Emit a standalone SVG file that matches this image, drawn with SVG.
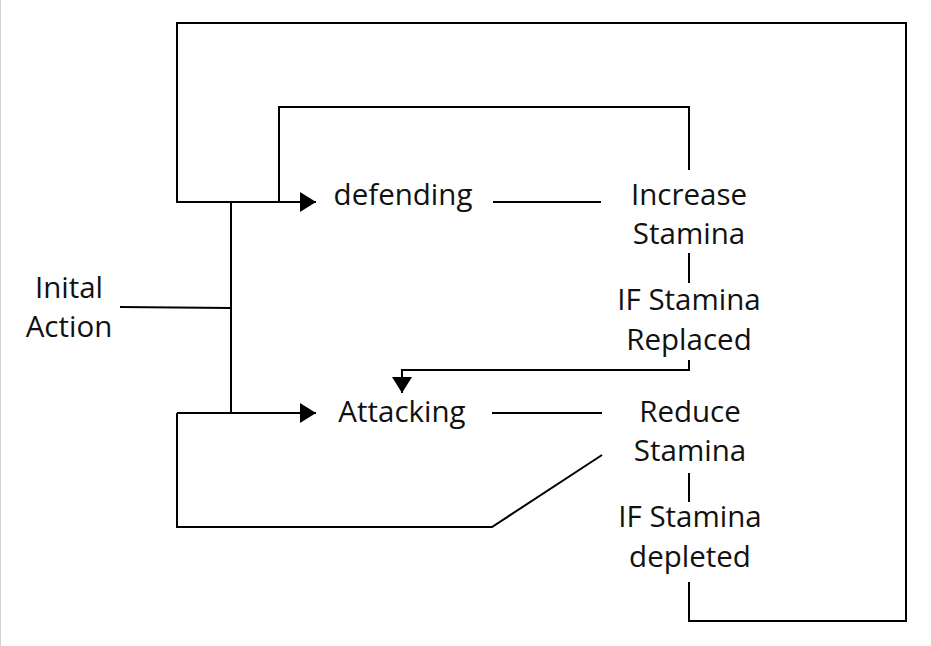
<svg xmlns="http://www.w3.org/2000/svg" width="931" height="646" viewBox="0 0 931 646">
<defs>
<marker id="arr" viewBox="0 0 16 20" refX="16" refY="10" markerWidth="16" markerHeight="20" markerUnits="userSpaceOnUse" orient="auto">
<path d="M0,0 L16,10 L0,20 Z" fill="#000"/>
</marker>
<style>
.ln{fill:none;stroke:#000;stroke-width:2}
.t{font-family:"Open Sans","Liberation Sans",sans-serif;font-size:29.5px;fill:#111;text-anchor:middle}
</style>
</defs>
<rect width="931" height="646" fill="#fff"/>
<line x1="0.5" y1="0" x2="0.5" y2="646" stroke="#d0d0d0" stroke-width="1"/>
<g id="connectors">
<polyline class="ln" points="689,582 689,621 906,621 906,23 177,23 177,202 316,202" marker-end="url(#arr)"/>
<polyline class="ln" points="689,170 689,107 279,107 279,202"/>
<line class="ln" x1="493" y1="202" x2="601" y2="202"/>
<line class="ln" x1="689" y1="253" x2="689" y2="283"/>
<polyline class="ln" points="689,360 689,370 402,370 402,393" marker-end="url(#arr)"/>
<line class="ln" x1="120" y1="307" x2="231" y2="308"/>
<line class="ln" x1="231" y1="202" x2="231" y2="413"/>
<polyline class="ln" points="177,413 316,413" marker-end="url(#arr)"/>
<polyline class="ln" points="602,455 492,527 177,527 177,413"/>
<line class="ln" x1="492" y1="413" x2="602" y2="413"/>
<line class="ln" x1="689" y1="473" x2="689" y2="502"/>
</g>
<g id="initial-action"><text class="t" x="69" y="298">Inital</text><text class="t" x="69" y="337">Action</text></g>
<g id="defending"><text class="t" x="403" y="205">defending</text></g>
<g id="increase-stamina"><text class="t" x="689" y="205">Increase</text><text class="t" x="689" y="244">Stamina</text></g>
<g id="if-stamina-replaced"><text class="t" x="689" y="310">IF Stamina</text><text class="t" x="689" y="350">Replaced</text></g>
<g id="attacking"><text class="t" x="402" y="422">Attacking</text></g>
<g id="reduce-stamina"><text class="t" x="690" y="422">Reduce</text><text class="t" x="690" y="461">Stamina</text></g>
<g id="if-stamina-depleted"><text class="t" x="690" y="527">IF Stamina</text><text class="t" x="690" y="567">depleted</text></g>
</svg>
